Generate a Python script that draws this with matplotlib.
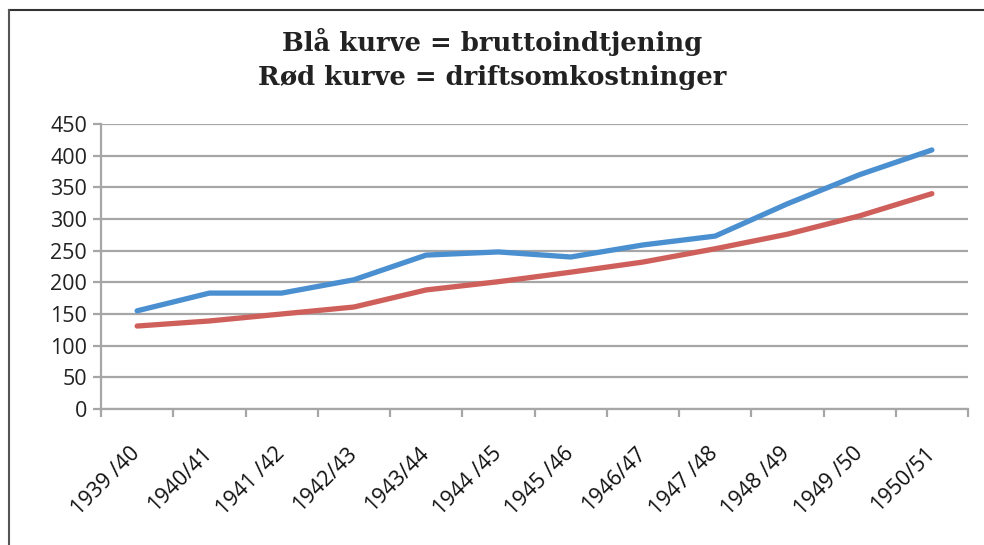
import matplotlib
matplotlib.use("Agg")
import matplotlib.pyplot as plt
from matplotlib.lines import Line2D
import numpy as np

categories = ["1939 /40", "1940/41", "1941 /42", "1942/43", "1943/44", "1944 /45",
              "1945 /46", "1946/47", "1947 /48", "1948 /49", "1949 /50", "1950/51"]
brutto = [155, 183, 183, 204, 243, 248, 240, 259, 273, 324, 370, 409]
drift = [131, 139, 150, 161, 188, 201, 216, 232, 253, 276, 305, 340]
yticks = [0, 50, 100, 150, 200, 250, 300, 350, 400, 450]
title_lines = ["Blå kurve = bruttoindtjening", "Rød kurve = driftsomkostninger"]

fig = plt.figure(figsize=(9.84, 5.45), dpi=100)
ax = fig.add_axes([101/984, 1-409/545, (968-101)/984, (409-124)/545])

x = np.arange(len(categories))
grid_c = "#a6a6a6"
ax.plot(x, brutto, color="#4a8fd0", lw=3.8, solid_capstyle="round", zorder=3)
ax.plot(x, drift, color="#cf5f5a", lw=3.8, solid_capstyle="round", zorder=3)

ax.set_xlim(-0.5, len(categories) - 0.5)
ax.set_ylim(0, 450)
ax.set_yticks(yticks)
ax.set_yticklabels([str(v) for v in yticks], fontsize=15.5, family="Open Sans", color="#222222")
ax.yaxis.grid(True, color=grid_c, lw=1.6)
ax.set_axisbelow(True)

ax.set_xticks(np.arange(-0.5, len(categories), 1.0))
ax.set_xticklabels([])
ax.set_xticks(x, minor=True)
ax.set_xticklabels(categories, minor=True, rotation=45, ha="right", va="center",
                   rotation_mode="anchor", fontsize=15.5, family="Open Sans", color="#111111")
ax.tick_params(axis="x", which="minor", length=0, pad=30)
ax.tick_params(axis="x", which="major", length=6, width=1.6, color=grid_c, direction="out")
ax.tick_params(axis="y", length=6, width=1.6, color=grid_c, direction="out", pad=4)

for s in ["top", "right"]:
    ax.spines[s].set_visible(False)
for s in ["left", "bottom"]:
    ax.spines[s].set_color(grid_c)
    ax.spines[s].set_linewidth(1.6)

fig.text(0.5, 1 - 42/545, title_lines[0], ha="center", va="center", fontsize=18.6,
         fontweight="bold", family="DejaVu Serif", color="#222222")
fig.text(0.5, 1 - 77/545, title_lines[1], ha="center", va="center", fontsize=18.6,
         fontweight="bold", family="DejaVu Serif", color="#222222")

# outer frame (top and left)
fig.add_artist(Line2D([9/984, 1], [1 - 10/545, 1 - 10/545], color="#333333", lw=1.5, transform=fig.transFigure))
fig.add_artist(Line2D([9/984, 9/984], [0, 1 - 10/545], color="#555555", lw=1.5, transform=fig.transFigure))

fig.savefig("out.png", dpi=100)
